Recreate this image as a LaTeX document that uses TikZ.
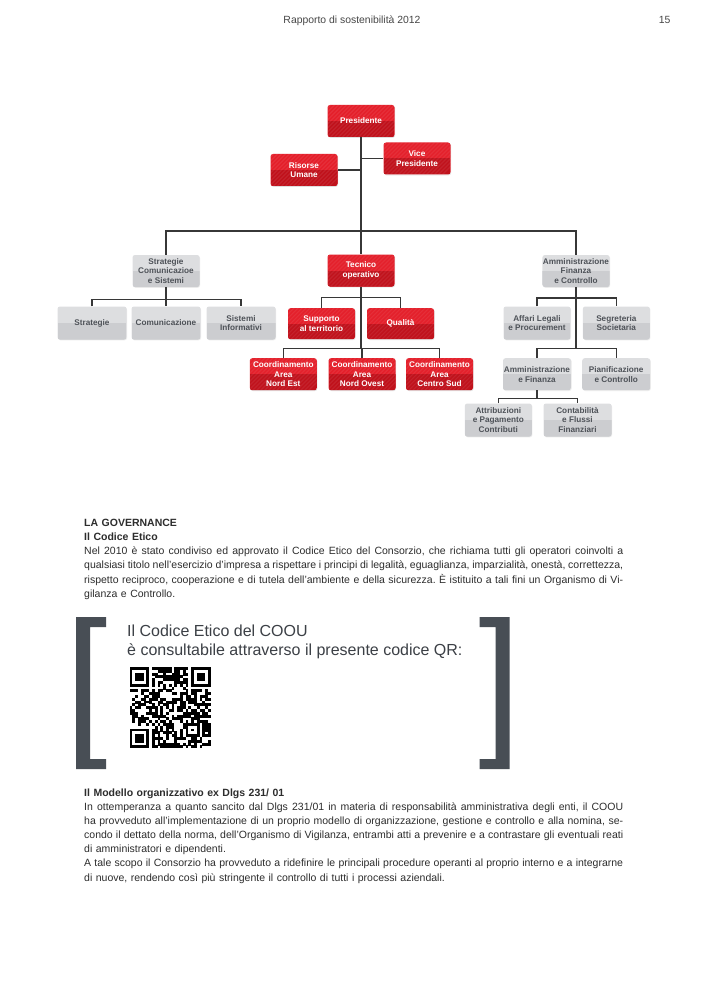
\documentclass[tikz,border=0pt]{standalone}
\usepackage{fontspec}
\setmainfont{Liberation Sans}
\usetikzlibrary{shadows}
\definecolor{redtop}{RGB}{228,32,43}
\definecolor{redbot}{RGB}{192,18,28}
\definecolor{greytop}{RGB}{221,222,224}
\definecolor{greybot}{RGB}{204,205,208}
\definecolor{greytext}{RGB}{78,82,88}
\definecolor{linec}{RGB}{55,55,55}
\definecolor{bodytext}{RGB}{45,45,45}
\definecolor{headc}{RGB}{70,70,70}
\definecolor{brack}{RGB}{72,78,85}
\definecolor{qrtext}{RGB}{60,64,70}
\newcommand{\jline}[1]{\hbox to 539pt{\frenchspacing\spaceskip=0.278em plus 0.6em minus 0.12em\relax #1}\par}
\newcommand{\lline}[1]{\hbox{#1}\par}
\newcommand{\boxfont}{\bfseries\fontsize{8.2}{9.8}\selectfont}
\tikzset{
  basebox/.style={rounded corners=2.5pt, minimum width=67pt, minimum height=32pt,
    inner sep=0.5pt, align=center, font=\boxfont},
  redbox/.style={basebox, text=white, fill=redtop,
    drop shadow={opacity=0.25, shadow xshift=0.6pt, shadow yshift=-0.8pt},
    path picture={
      \fill[redbot, sharp corners] (path picture bounding box.west) rectangle (path picture bounding box.south east);
      \foreach \k in {0,...,26}{
        \draw[white, opacity=0.07, line width=1.1pt, sharp corners]
          ([xshift=\k*4pt-45pt]path picture bounding box.south west) -- ++(50pt,50pt);}
    }},
  greybox/.style={basebox, text=greytext, fill=greytop,
    drop shadow={opacity=0.15, shadow xshift=0.6pt, shadow yshift=-0.8pt},
    path picture={
      \fill[greybot, sharp corners] (path picture bounding box.west) rectangle (path picture bounding box.south east);
    }},
  conn/.style={draw=linec, line width=1.1pt},
  bodyblock/.style={anchor=base west, inner sep=0pt, text width=539pt,
    font=\fontsize{10.5}{14.15}\selectfont, text=bodytext},
}
\begin{document}
\begin{tikzpicture}[x=1pt,y=-1pt]
\useasboundingbox (0,0) rectangle (706,1000);
\fill[white] (0,0) rectangle (706,1000);

% header
\node[anchor=base, inner sep=0pt, font=\fontsize{10.4}{12}\selectfont, text=headc] (hdr) at (352,23.3) {Rapporto di sostenibilità 2012};
\node[anchor=base east, inner sep=0pt, font=\fontsize{10.4}{12}\selectfont, text=headc] (pg) at (670.7,23.3) {15};

% org chart nodes
\node[redbox] (pres) at (361,121) {Presidente};
\node[redbox] (vice) at (417,158.5) {Vice\\Presidente};
\node[redbox] (ris) at (304,170) {Risorse\\Umane};

\node[greybox] (strat) at (166,271) {Strategie\\Comunicazioe\\e Sistemi};
\node[redbox] (tec) at (361,270.5) {Tecnico\\operativo};
\node[greybox] (amm) at (576,271) {Amministrazione\\Finanza\\e Controllo};

\node[greybox, minimum width=69pt, minimum height=33pt] (s1) at (92,323) {Strategie};
\node[greybox, minimum width=69pt, minimum height=33pt] (s2) at (166,323) {Comunicazione};
\node[greybox, minimum width=69pt, minimum height=33pt] (s3) at (241,323) {Sistemi\\Informativi};

\node[redbox, minimum height=31pt] (sup) at (321.5,323.7) {Supporto\\al territorio};
\node[redbox, minimum height=31pt] (qual) at (400.5,323.7) {Qualità};

\node[redbox] (c1) at (283.3,374.2) {Coordinamento\\Area\\Nord Est};
\node[redbox] (c2) at (362,374.2) {Coordinamento\\Area\\Nord Ovest};
\node[redbox] (c3) at (439.5,374.2) {Coordinamento\\Area\\Centro Sud};

\node[greybox, minimum height=33pt] (aff) at (537,323) {Affari Legali\\e Procurement};
\node[greybox, minimum height=33pt] (seg) at (616.3,323) {Segreteria\\Societaria};

\node[greybox, minimum width=68pt] (aef) at (537,374.2) {Amministrazione\\e Finanza};
\node[greybox, minimum width=68pt] (pian) at (616.2,374.2) {Pianificazione\\e Controllo};

\node[greybox, minimum height=33pt] (att) at (498.3,420) {Attribuzioni\\e Pagamento\\Contributi};
\node[greybox, minimum width=68pt, minimum height=33pt] (cont) at (577.5,420) {Contabilità\\e Flussi\\Finanziari};

% junction coordinates
\coordinate (bus) at (361,231);
\coordinate (lb) at (166,299.3);
\coordinate (tb1) at (361,297.5);
\coordinate (tb2) at (361,348.3);
\coordinate (ab1) at (576,298);
\coordinate (ab2) at (576,348.3);
\coordinate (eb) at (537,398.3);

% connectors
\draw[conn] (pres.south) -- (tec.north);
\draw[conn] (vice.west) -- (vice.west -| pres.south);
\draw[conn] (ris.east) -- (ris.east -| pres.south);
\draw[conn] (strat.north) |- (bus) -| (amm.north);

\draw[conn] (strat.south) -- (lb);
\draw[conn] (s1.north) |- (lb) -| (s3.north);
\draw[conn] (lb) -- (s2.north);

\draw[conn] (tec.south) -- (tb2);
\draw[conn] (sup.north) |- (tb1) -| (qual.north);
\draw[conn] (c1.north) |- (tb2) -| (c3.north);
\draw[conn] (tb2 -| c2.north) -- (c2.north);

\draw[conn] (amm.south) -- (ab2);
\draw[conn] (aff.north) |- (ab1) -| (seg.north);
\draw[conn] (aef.north) |- (ab2) -| (pian.north);

\draw[conn] (aef.south) -- (eb);
\draw[conn] (att.north) |- (eb) -| (cont.north);

% text block 1
\node[bodyblock] (gov) at (84,526.5) {%
\lline{\bfseries LA GOVERNANCE}%
\lline{\bfseries Il Codice Etico}%
\jline{Nel 2010 è stato condiviso ed approvato il Codice Etico del Consorzio, che richiama tutti gli operatori coinvolti a}%
\jline{qualsiasi titolo nell’esercizio d’impresa a rispettare i principi di legalità, eguaglianza, imparzialità, onestà, correttezza,}%
\jline{rispetto reciproco, cooperazione e di tutela dell’ambiente e della sicurezza. È istituito a tali fini un Organismo di Vi-}%
\lline{gilanza e Controllo.}};

% QR box
\fill[brack] (76,617) -- (106,617) -- (106,627) -- (90,627) -- (90,759) -- (106,759) -- (106,769) -- (76,769) -- cycle;
\fill[brack] (509.5,617) -- (479.5,617) -- (479.5,627) -- (495.5,627) -- (495.5,759) -- (479.5,759) -- (479.5,769) -- (509.5,769) -- cycle;
\node[anchor=base west, inner sep=0pt, font=\fontsize{16}{19.5}\selectfont, text=qrtext] (qr1) at (127,636) {Il Codice Etico del COOU};
\node[anchor=base west, inner sep=0pt, font=\fontsize{16}{19.5}\selectfont, text=qrtext] (qr2) at (127,655.5) {è consultabile attraverso il presente codice QR:};

% QR code (29 x 29 modules)
\def\qx{129.5}
\def\qy{667}
\def\qm{2.8}
\pgfmathsetseed{4242}
\foreach \r in {0,...,28}{\foreach \c in {0,...,28}{
  \pgfmathtruncatemacro\res{((\r<8)&&(\c<8))||((\r<8)&&(\c>20))||((\r>20)&&(\c<8))||((\r>19)&&(\r<25)&&(\c>19)&&(\c<25))||(\r==6)||(\c==6)}
  \pgfmathtruncatemacro\bit{rnd<0.58}
  \ifnum\res=0 \ifnum\bit=1 \fill[black] (\qx+\c*\qm,\qy+\r*\qm) rectangle ++(\qm+0.15,\qm+0.15); \fi\fi
}}
\foreach \fc/\fr in {0/0,22/0,0/22}{
  \fill[black] (\qx+\fc*\qm,\qy+\fr*\qm) rectangle ++(7*\qm,7*\qm);
  \fill[white] (\qx+\fc*\qm+\qm,\qy+\fr*\qm+\qm) rectangle ++(5*\qm,5*\qm);
  \fill[black] (\qx+\fc*\qm+2*\qm,\qy+\fr*\qm+2*\qm) rectangle ++(3*\qm,3*\qm);
}
\fill[black] (\qx+20*\qm,\qy+20*\qm) rectangle ++(5*\qm,5*\qm);
\fill[white] (\qx+21*\qm,\qy+21*\qm) rectangle ++(3*\qm,3*\qm);
\fill[black] (\qx+22*\qm,\qy+22*\qm) rectangle ++(\qm,\qm);
\foreach \k in {8,10,...,20}{
  \fill[black] (\qx+\k*\qm,\qy+6*\qm) rectangle ++(\qm,\qm);
  \fill[black] (\qx+6*\qm,\qy+\k*\qm) rectangle ++(\qm,\qm);
}

% text block 2
\node[bodyblock, font=\fontsize{10.5}{14.05}\selectfont] (mod) at (84,796.7) {%
\lline{\bfseries Il Modello organizzativo ex Dlgs 231/ 01}%
\jline{In ottemperanza a quanto sancito dal Dlgs 231/01 in materia di responsabilità amministrativa degli enti, il COOU}%
\jline{ha provveduto all’implementazione di un proprio modello di organizzazione, gestione e controllo e alla nomina, se-}%
\jline{condo il dettato della norma, dell’Organismo di Vigilanza, entrambi atti a prevenire e a contrastare gli eventuali reati}%
\lline{di amministratori e dipendenti.}%
\jline{A tale scopo il Consorzio ha provveduto a ridefinire le principali procedure operanti al proprio interno e a integrarne}%
\lline{di nuove, rendendo così più stringente il controllo di tutti i processi aziendali.}};
\end{tikzpicture}
\end{document}
